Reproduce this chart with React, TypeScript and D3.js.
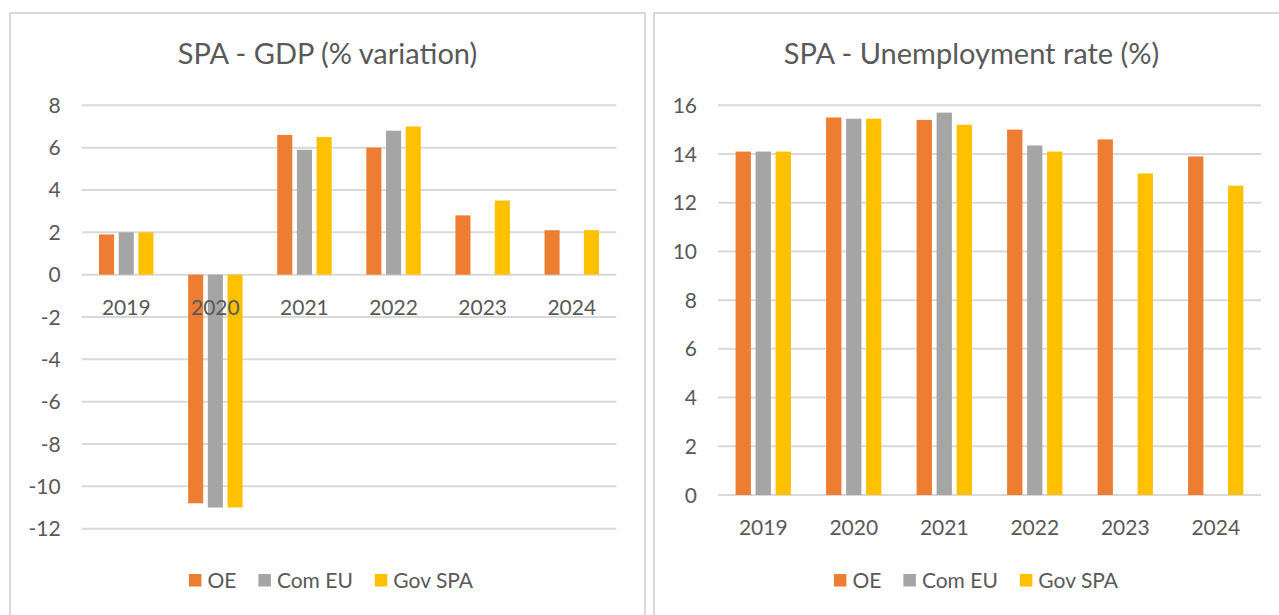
import React, { useEffect, useRef } from 'react';
import * as d3 from 'd3';

const years = ['2019', '2020', '2021', '2022', '2023', '2024'];
const seriesNames = ['OE', 'Com EU', 'Gov SPA'];
const seriesColors = ['#ED7D31', '#A5A5A5', '#FFC000'];

const gdpOE: (number | null)[] = [1.9, -10.8, 6.6, 6.0, 2.8, 2.1];
const gdpCom: (number | null)[] = [2.0, -11.0, 5.9, 6.8, null, null];
const gdpGov: (number | null)[] = [2.0, -11.0, 6.5, 7.0, 3.5, 2.1];

const unOE: (number | null)[] = [14.1, 15.5, 15.4, 15.0, 14.6, 13.9];
const unCom: (number | null)[] = [14.1, 15.45, 15.7, 14.35, null, null];
const unGov: (number | null)[] = [14.1, 15.45, 15.2, 14.1, 13.2, 12.7];

const gdpTicks = [-12, -10, -8, -6, -4, -2, 0, 2, 4, 6, 8];
const unTicks = [0, 2, 4, 6, 8, 10, 12, 14, 16];

const gdpTitle = 'SPA - GDP (% variation)';
const unTitle = 'SPA - Unemployment rate (%)';

const FONT = 'Lato, "Open Sans", sans-serif';
const TEXT = '#595959';
const GRID = '#D9D9D9';

type Panel = {
  title: string;
  boxX: number;
  boxW: number;
  plotX1: number;
  plotX2: number;
  yTop: number;
  yBottom: number;
  domain: [number, number];
  ticks: number[];
  series: (number | null)[][];
  legendCx: number;
};

const panels: Panel[] = [
  {
    title: gdpTitle,
    boxX: 10,
    boxW: 635,
    plotX1: 81.7,
    plotX2: 616.3,
    yTop: 105.3,
    yBottom: 528.7,
    domain: [-12, 8],
    ticks: gdpTicks,
    series: [gdpOE, gdpCom, gdpGov],
    legendCx: 331,
  },
  {
    title: unTitle,
    boxX: 654,
    boxW: 635,
    plotX1: 718,
    plotX2: 1261,
    yTop: 105.3,
    yBottom: 495,
    domain: [0, 16],
    ticks: unTicks,
    series: [unOE, unCom, unGov],
    legendCx: 976,
  },
];

function drawPanel(svg: d3.Selection<SVGSVGElement, unknown, null, undefined>, p: Panel) {
  const g = svg.append('g');
  g.append('rect')
    .attr('x', p.boxX)
    .attr('y', 13)
    .attr('width', p.boxW)
    .attr('height', 660)
    .attr('fill', '#fff')
    .attr('stroke', GRID)
    .attr('stroke-width', 2);

  const cx = p.boxX + p.boxW / 2;
  g.append('text')
    .attr('x', cx)
    .attr('y', 64)
    .attr('text-anchor', 'middle')
    .attr('font-family', FONT)
    .attr('font-size', 29)
    .attr('fill', TEXT)
    .text(p.title);

  const y = d3.scaleLinear().domain(p.domain).range([p.yBottom, p.yTop]);
  const x0 = d3
    .scaleBand<string>()
    .domain(years)
    .range([p.plotX1, p.plotX2])
    .paddingInner(0.389)
    .paddingOuter(0.1945);
  const x1 = d3
    .scaleBand<string>()
    .domain(seriesNames)
    .range([0, x0.bandwidth()])
    .paddingInner(0.235);

  g.append('g')
    .selectAll('line')
    .data(p.ticks)
    .join('line')
    .attr('x1', p.plotX1)
    .attr('x2', p.plotX2)
    .attr('y1', (d) => y(d))
    .attr('y2', (d) => y(d))
    .attr('stroke', GRID)
    .attr('stroke-width', 2);

  g.append('g')
    .selectAll('text')
    .data(p.ticks)
    .join('text')
    .attr('x', p.plotX1 - 21)
    .attr('y', (d) => y(d) + 7.5)
    .attr('text-anchor', 'end')
    .attr('font-family', FONT)
    .attr('font-size', 21)
    .attr('fill', TEXT)
    .text((d) => String(d));

  const barData: { year: string; s: string; v: number; c: string }[] = [];
  years.forEach((yr, i) => {
    p.series.forEach((arr, si) => {
      const v = arr[i];
      if (v !== null && v !== undefined) barData.push({ year: yr, s: seriesNames[si], v, c: seriesColors[si] });
    });
  });
  g.append('g')
    .selectAll('rect')
    .data(barData)
    .join('rect')
    .attr('x', (d) => (x0(d.year) as number) + (x1(d.s) as number))
    .attr('width', x1.bandwidth())
    .attr('y', (d) => Math.min(y(d.v), y(0)))
    .attr('height', (d) => Math.abs(y(d.v) - y(0)))
    .attr('fill', (d) => d.c);

  g.append('g')
    .selectAll('text')
    .data(years)
    .join('text')
    .attr('x', (d) => (x0(d) as number) + x0.bandwidth() / 2)
    .attr('y', y(0) + 40)
    .attr('text-anchor', 'middle')
    .attr('font-family', FONT)
    .attr('font-size', 21)
    .attr('fill', TEXT)
    .text((d) => d);

  const lg = g.append('g');
  const items = lg.selectAll('g').data(seriesNames).join('g');
  items
    .append('rect')
    .attr('width', 12.5)
    .attr('height', 12.5)
    .attr('y', 574)
    .attr('fill', (_d, i) => seriesColors[i]);
  items
    .append('text')
    .attr('x', 18.5)
    .attr('y', 587.5)
    .attr('font-family', FONT)
    .attr('font-size', 21)
    .attr('fill', TEXT)
    .text((d) => d);
  let offset = 0;
  const offsets: number[] = [];
  items.each(function () {
    const t = d3.select(this).select('text').node() as SVGTextElement;
    const w = t.getComputedTextLength();
    offsets.push(offset);
    offset += 18.5 + w + 22;
  });
  const total = offset - 22;
  const start = p.legendCx - total / 2;
  items.attr('transform', (_d, i) => `translate(${start + offsets[i]},0)`);
}

export default function App() {
  const ref = useRef<SVGSVGElement>(null);
  useEffect(() => {
    if (!ref.current) return;
    const svg = d3.select(ref.current);
    svg.selectAll('*').remove();
    svg.append('rect').attr('width', 1279).attr('height', 615).attr('fill', '#fff');
    panels.forEach((p) => drawPanel(svg, p));
  }, []);
  return (
    <svg
      ref={ref}
      width={1279}
      height={615}
      style={{ position: 'absolute', left: 0, top: 0, display: 'block' }}
    />
  );
}
